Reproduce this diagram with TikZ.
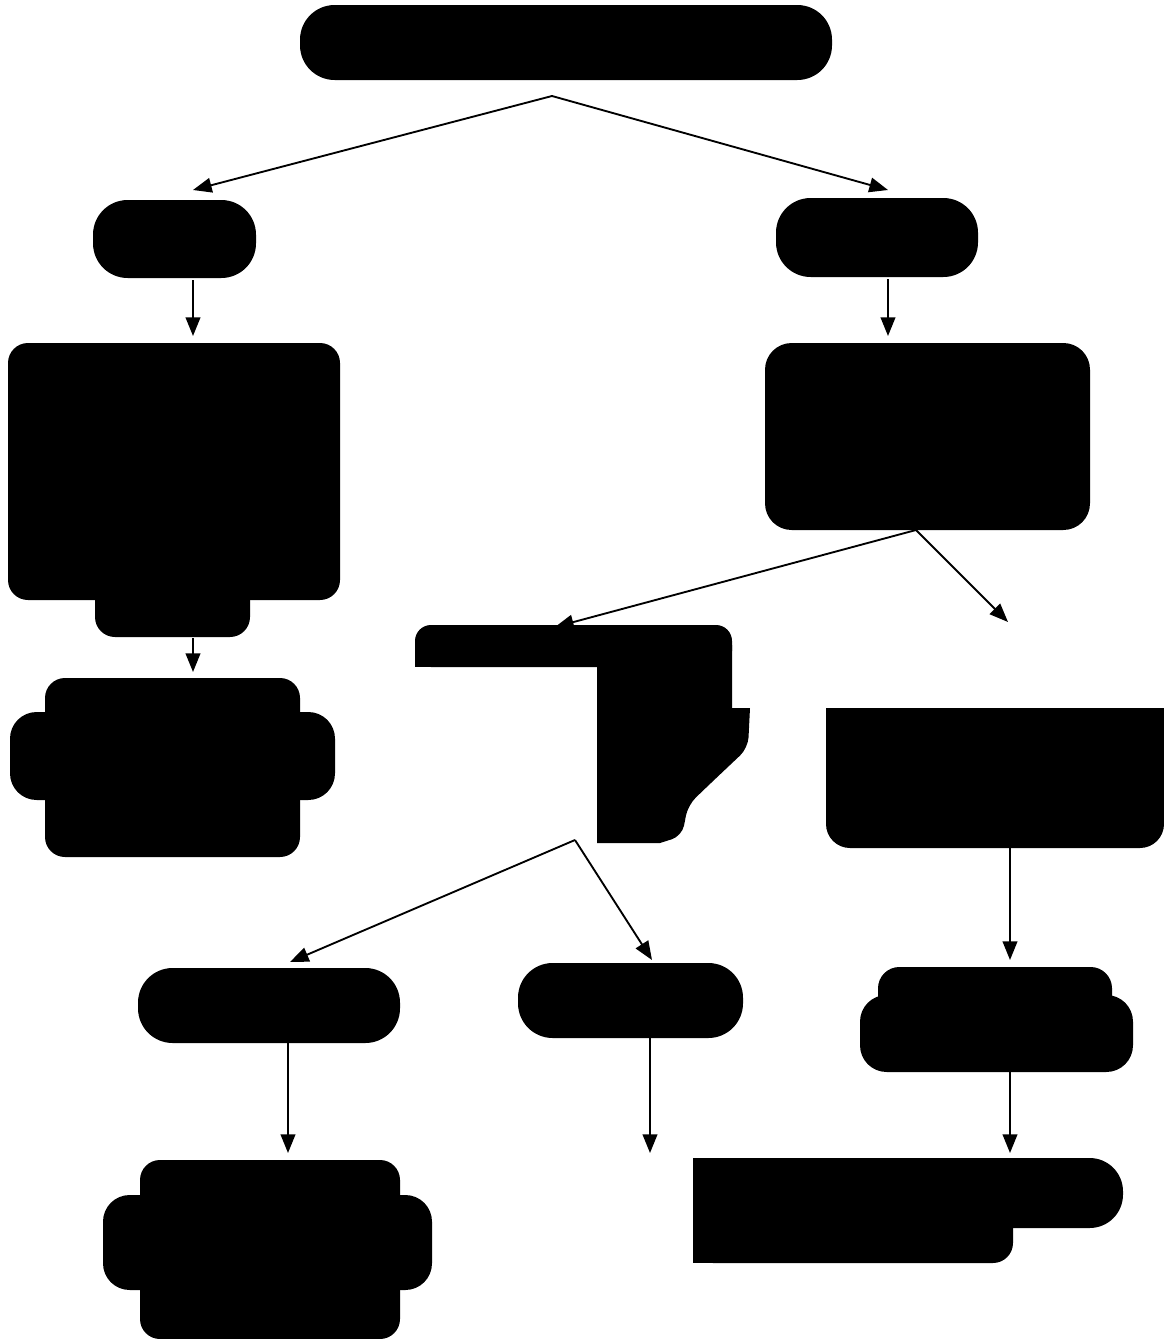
\documentclass[tikz,border=0pt]{standalone}
\usepackage{tikz}
\usetikzlibrary{fit,arrows.meta}

\tikzset{
  blob/.style={fill=black, inner sep=0pt, rounded corners=#1},
  blob/.default=15pt,
  arr/.style={line width=1.4pt, -{Triangle[length=14pt,width=11pt]}}
}

\begin{document}
\begin{tikzpicture}[x=0.75pt,y=0.75pt,yscale=-1,xscale=1]
\useasboundingbox (0,0) rectangle (1164,1339);

%top row
\node[blob=26pt, fit={(300,5) (832,80)}] (root) {};
\coordinate (rootout) at (552,96);

%second row
\node[blob=26pt, fit={(93,200) (256,278)}] (la) {};
\node[blob=26pt, fit={(776,198) (978,277)}] (ra) {};
\coordinate (lain) at (193,190);
\coordinate (rain) at (888,190);
\coordinate (laout) at (193,280);
\coordinate (raout) at (888,279);

%left column, big block
\node[blob, fit={(8,343) (340,600)}] (lb) {};
\fill[rounded corners=15pt] (95,560) rectangle (250,637);
\coordinate (lbin) at (193,336);
\coordinate (lbout) at (193,638);

%left column, lower block
\node[blob, fit={(45,678) (300,857)}] (lc) {};
\fill[rounded corners=20pt] (10,712) rectangle (335,800);
\coordinate (lcin) at (193,672);

%right column, big block
\node[blob=20pt, fit={(765,343) (1090,530)}] (rb) {};
\coordinate (rbin) at (888,336);
\coordinate (rbout) at (916,530);

%middle block (cut)
\node[blob=12pt, fit={(415,625) (732,667)}] (mb) {};
\fill (415,647) rectangle (600,667);
\fill (597,645) -- (732,645) -- (732,708) -- (750,708)
  [rounded corners=8pt] -- (748,748) -- (712,782) -- (688,805) -- (682,836)
  [sharp corners] -- (660,843) -- (597,843) -- cycle;
\coordinate (mbin) at (555,627);
\coordinate (mbout) at (575,840);

%right block (cut)
\node[blob=18pt, fit={(826,708) (1164,848)}] (rc) {};
\fill (826,708) rectangle (1164,745);
\coordinate (rcin) at (1008,622);
\coordinate (rcout) at (1010,848);

%third row
\node[blob=26pt, fit={(138,968) (400,1043)}] (ba) {};
\node[blob=26pt, fit={(518,963) (743,1038)}] (bb) {};
\node[blob=20pt, fit={(860,995) (1133,1072)}] (bc) {};
\fill[rounded corners=16pt] (878,967) rectangle (1112,1035);
\coordinate (bain) at (290,962);
\coordinate (bbin) at (652,960);
\coordinate (bcin) at (1010,960);
\coordinate (baout) at (288,1043);
\coordinate (bbout) at (650,1038);
\coordinate (bcout) at (1010,1072);

%bottom row
\node[blob, fit={(140,1160) (400,1339)}] (da) {};
\fill[rounded corners=20pt] (103,1195) rectangle (432,1290);
\node[blob=25pt, fit={(693,1158) (1123,1228)}] (dc) {};
\fill (693,1158) rectangle (900,1228);
\fill[rounded corners=15pt] (693,1190) rectangle (1013,1263);
\fill (693,1190) rectangle (900,1263);
\coordinate (dain) at (288,1153);
\coordinate (dbin) at (650,1153);
\coordinate (dcin) at (1010,1153);

%arrows
\draw[arr] (rootout) -- (lain);
\draw[arr] (rootout) -- (rain);
\draw[arr] (laout) -- (lbin);
\draw[arr] (raout) -- (rbin);
\draw[arr] (lbout) -- (lcin);
\draw[arr] (rbout) -- (mbin);
\draw[arr] (rbout) -- (rcin);
\draw[arr] (mbout) -- (bain);
\draw[arr] (mbout) -- (bbin);
\draw[arr] (rcout) -- (bcin);
\draw[arr] (baout) -- (dain);
\draw[arr] (bbout) -- (dbin);
\draw[arr] (bcout) -- (dcin);

\end{tikzpicture}
\end{document}
